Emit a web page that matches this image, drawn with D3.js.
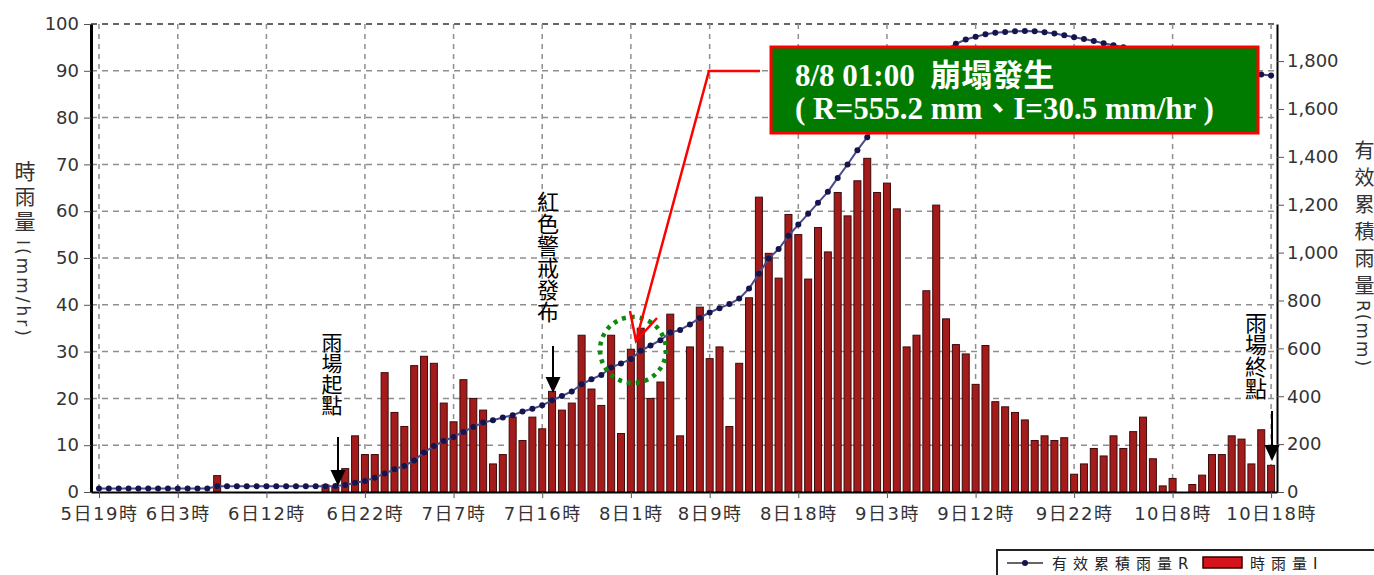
<!DOCTYPE html>
<html>
<head>
<meta charset="utf-8">
<script src="https://cdn.jsdelivr.net/npm/d3@7"></script>
<style>
body { margin: 0; background: #fff; }
svg { display: block; font-family: "DejaVu Sans", "Noto Sans CJK TC", sans-serif; }
.vt { writing-mode: vertical-rl; }
.axis text { fill: #333; font-size: 18px; font-family: "DejaVu Sans", "Noto Sans CJK TC", sans-serif; }
</style>
</head>
<body>
<svg id="chart" width="1374" height="575"></svg>
<script>
// hourly data, index 0 = 5日19時 ... index 119 = 10日18時
const tickHours = [0, 8, 17, 27, 36, 45, 54, 62, 71, 80, 89, 99, 109, 119];
const tickLabels = ["5日19時", "6日3時", "6日12時", "6日22時", "7日7時", "7日16時", "8日1時",
                    "8日9時", "8日18時", "9日3時", "9日12時", "9日22時", "10日8時", "10日18時"];
const leftTicks = [0, 10, 20, 30, 40, 50, 60, 70, 80, 90, 100];
const rightTicks = [0, 200, 400, 600, 800, 1000, 1200, 1400, 1600, 1800];

// 時雨量 I (mm/hr)
const rainI = [
  0, 0, 0, 0, 0, 0, 0, 0, 0, 0, 0, 0, 3.5, 0, 0, 0, 0, 0, 0, 0,
  0, 0, 0, 1.5, 1, 5, 12, 8, 8, 25.5, 17, 14, 27, 29, 27.5, 19, 15, 24, 20, 17.5,
  6, 8, 16, 11, 16, 13.5, 21.5, 17.5, 19, 33.5, 22, 18.5, 33.5, 12.5, 30.5, 35, 20, 23.5, 38, 12,
  31, 39.5, 28.5, 31, 14, 27.5, 41.5, 63, 51, 45.7, 59.3, 55, 45.5, 56.5, 51.3, 64, 59, 66.5, 71.3, 64,
  66, 60.5, 31, 33.5, 43, 61.3, 37, 31.5, 29.5, 23, 31.3, 19.3, 18.2, 17, 15.4, 11, 12, 11, 11.6, 3.8,
  6, 9.3, 7.7, 12, 9.3, 12.9, 16, 7.1, 1.3, 2.9, 0, 1.6, 3.6, 8, 8, 12, 11.3, 6, 13.3, 5.7
];

// 有效累積雨量 R (mm)
const rainR = [
  15, 15, 15, 15, 15, 15, 15, 15, 15, 15, 15, 15, 24, 24, 24, 24, 24, 24, 24, 24,
  24, 24, 24, 24, 25, 29, 39, 46, 60, 77, 95, 109, 132, 165, 192, 213, 230, 251, 272, 290,
  300, 311, 321, 336, 348, 362, 383, 401, 420, 450, 471, 489, 520, 537, 555.2, 590, 612, 634, 666, 677,
  700, 727, 750, 768, 785, 808, 850, 912, 975, 1015, 1070, 1117, 1162, 1208, 1254, 1312, 1368, 1428, 1482, 1540,
  1600, 1656, 1684, 1713, 1752, 1810, 1848, 1872, 1890, 1902, 1912, 1918, 1922, 1925, 1926, 1925, 1921, 1915, 1908, 1900,
  1892, 1884, 1875, 1866, 1858, 1850, 1843, 1833, 1822, 1810, 1798, 1787, 1777, 1768, 1761, 1755, 1750, 1746, 1744, 1740
];

const svg = d3.select("#chart");
const plotL = 91, plotR = 1277, plotT = 24, plotB = 492;

const x = d3.scaleLinear().domain([-0.81, 119.6]).range([plotL, plotR]);
const yL = d3.scaleLinear().domain([0, 100]).range([plotB, plotT]);
const yR = d3.scaleLinear().domain([0, 1955]).range([plotB, plotT]);

// grid
const grid = svg.append("g");
grid.selectAll("line.h").data(leftTicks.filter(d => d > 0)).join("line")
    .attr("x1", plotL).attr("x2", plotR)
    .attr("y1", d => yL(d)).attr("y2", d => yL(d))
    .attr("stroke", d => d === 100 ? "#333" : "#8f8f8f")
    .attr("stroke-width", 1.5)
    .attr("stroke-dasharray", "6,5");
grid.selectAll("line.v").data(tickHours).join("line")
    .attr("x1", d => x(d)).attr("x2", d => x(d))
    .attr("y1", plotT).attr("y2", plotB)
    .attr("stroke", "#8f8f8f")
    .attr("stroke-width", 1.5)
    .attr("stroke-dasharray", "5,5");

// bars
svg.append("g").selectAll("rect")
    .data(rainI.map((v, i) => ({i, v})).filter(d => d.v > 0))
    .join("rect")
    .attr("x", d => x(d.i) - 3.5)
    .attr("width", 7)
    .attr("y", d => yL(d.v))
    .attr("height", d => plotB - yL(d.v))
    .attr("fill", "#a31b1b")
    .attr("stroke", "#3d0b0b")
    .attr("stroke-width", 1);

// cumulative line
const line = d3.line().x((d, i) => x(i)).y(d => yR(d));
svg.append("path")
    .attr("d", line(rainR))
    .attr("fill", "none")
    .attr("stroke", "#4a4a8c")
    .attr("stroke-width", 2);
svg.append("g").selectAll("circle").data(rainR).join("circle")
    .attr("cx", (d, i) => x(i))
    .attr("cy", d => yR(d))
    .attr("r", 3)
    .attr("fill", "#15154e");

// axes
const axL = svg.append("g").attr("class", "axis")
    .attr("transform", `translate(${plotL},0)`)
    .call(d3.axisLeft(yL).tickValues(leftTicks).tickSize(7).tickPadding(5).tickSizeOuter(0));
axL.select(".domain").attr("stroke", "#000").attr("stroke-width", 3);
axL.selectAll(".tick line").attr("stroke", "#555");

const axR = svg.append("g").attr("class", "axis")
    .attr("transform", `translate(${plotR},0)`)
    .call(d3.axisRight(yR).tickValues(rightTicks).tickFormat(d3.format(",")).tickSize(7).tickPadding(3).tickSizeOuter(0));
axR.select(".domain").attr("stroke", "#000").attr("stroke-width", 2);
axR.selectAll(".tick line").attr("stroke", "#555");

const axB = svg.append("g").attr("class", "axis")
    .attr("transform", `translate(0,${plotB})`)
    .call(d3.axisBottom(x).tickValues(tickHours).tickFormat((d, i) => tickLabels[i]).tickSize(6).tickPadding(9).tickSizeOuter(0));
axB.select(".domain").attr("stroke", "#000").attr("stroke-width", 2);
axB.selectAll(".tick line").attr("stroke", "#555");
axB.selectAll(".tick text").attr("letter-spacing", 1.5);

// axis titles: CJK stacked upright, latin part turned sideways
function sideways(tx, ty, size, spacing, txt) {
    svg.append("text").attr("transform", `translate(${tx},${ty}) rotate(90)`)
        .attr("dominant-baseline", "central")
        .attr("font-size", size).attr("letter-spacing", spacing).attr("fill", "#333").text(txt);
}
svg.append("text").attr("class", "vt").attr("x", 23).attr("y", 161)
    .attr("font-size", 21).attr("letter-spacing", 4).attr("fill", "#333").text("時雨量");
sideways(23, 240, 17, 3, "I(mm/hr)");
svg.append("text").attr("class", "vt").attr("x", 1363).attr("y", 140)
    .attr("font-size", 20).attr("letter-spacing", 7).attr("fill", "#333").text("有效累積雨量");
sideways(1363, 300, 17, 2, "R(mm)");

// vertical notes with arrows
function arrow(ax, y1, y2) {
    svg.append("line").attr("x1", ax).attr("x2", ax).attr("y1", y1).attr("y2", y2 - 12)
        .attr("stroke", "#000").attr("stroke-width", 2);
    svg.append("path").attr("d", `M${ax - 7.5},${y2 - 16}L${ax + 7.5},${y2 - 16}L${ax},${y2}Z`)
        .attr("fill", "#000");
}
const notes = [
    {text: "雨場起點", tx: 332, ty: 332, size: 21, ax: 338, y1: 437, y2: 486},
    {text: "紅色警戒發布", tx: 548, ty: 191, size: 22, ax: 553, y1: 346, y2: 393},
    {text: "雨場終點", tx: 1256, ty: 312, size: 22, ax: 1272, y1: 411, y2: 461}
];
notes.forEach(n => {
    svg.append("text").attr("class", "vt").attr("x", n.tx).attr("y", n.ty)
        .attr("font-size", n.size).attr("fill", "#000")
        .style("font-family", "'Noto Sans CJK TC', sans-serif").text(n.text);
    arrow(n.ax, n.y1, n.y2);
});

// collapse annotation
svg.append("circle").attr("cx", 633).attr("cy", 350).attr("r", 33)
    .attr("fill", "none").attr("stroke", "#0c8a0c").attr("stroke-width", 4.5)
    .attr("stroke-dasharray", "4,5");
svg.append("polyline").attr("points", "760,71 709,71 636,341")
    .attr("fill", "none").attr("stroke", "#f00").attr("stroke-width", 2.5);
svg.append("polyline").attr("points", "630,311 636,341 657,318")
    .attr("fill", "none").attr("stroke", "#f00").attr("stroke-width", 2.5);
svg.append("rect").attr("x", 771).attr("y", 47).attr("width", 487).attr("height", 86)
    .attr("fill", "#007b00").attr("stroke", "#f00").attr("stroke-width", 3);
const boxLines = ["8/8 01:00  崩塌發生", "( R=555.2 mm、I=30.5 mm/hr )"];
svg.selectAll("text.box").data(boxLines).join("text")
    .attr("class", "box")
    .attr("x", 795).attr("y", (d, i) => 86 + i * 33)
    .attr("fill", "#fff").attr("font-size", 31).attr("font-weight", "bold")
    .style("font-family", "'Liberation Serif', 'Noto Sans CJK TC', serif")
    .style("white-space", "pre")
    .text(d => d);

// legend
const lg = svg.append("g");
lg.append("rect").attr("x", 997).attr("y", 550).attr("width", 420).attr("height", 40)
    .attr("fill", "#fff").attr("stroke", "#222").attr("stroke-width", 2);
lg.append("line").attr("x1", 1007).attr("x2", 1043).attr("y1", 563).attr("y2", 563)
    .attr("stroke", "#333").attr("stroke-width", 1.5);
lg.append("circle").attr("cx", 1025).attr("cy", 563).attr("r", 3).attr("fill", "#15154e");
lg.append("text").attr("x", 1052).attr("y", 569).attr("font-size", 15).attr("letter-spacing", 6)
    .attr("fill", "#222").text("有效累積雨量R");
lg.append("rect").attr("x", 1203).attr("y", 557).attr("width", 39).attr("height", 11)
    .attr("fill", "#d4141a").attr("stroke", "#300").attr("stroke-width", 1.5);
lg.append("text").attr("x", 1250).attr("y", 569).attr("font-size", 15).attr("letter-spacing", 6)
    .attr("fill", "#222").text("時雨量I");
</script>
</body>
</html>
